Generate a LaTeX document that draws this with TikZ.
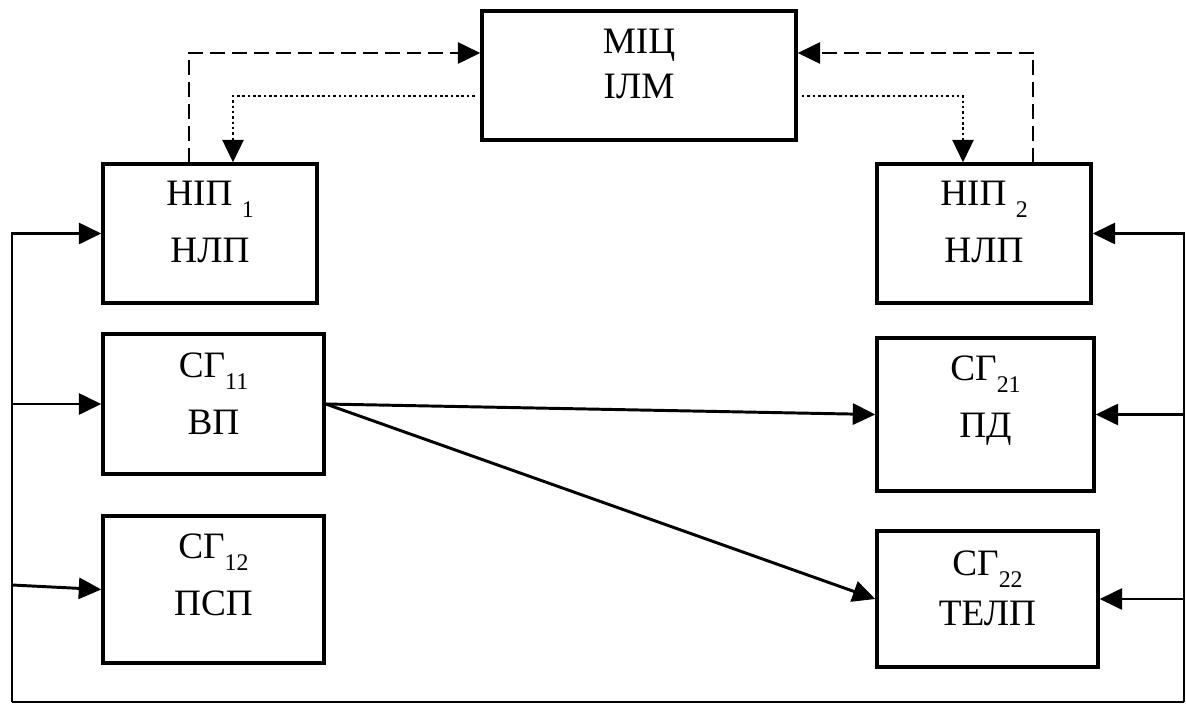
\documentclass[tikz,border=0pt]{standalone}
\usepackage{fontspec}
\setmainfont{Liberation Serif}
\usetikzlibrary{arrows.meta}

\newcommand\blkfont{\fontsize{26.5pt}{32pt}\selectfont}
\newcommand\lowidx[1]{\raisebox{-8.5pt}{\fontsize{17pt}{17pt}\selectfont #1}}

\begin{document}
\begin{tikzpicture}[x=0.025cm, y=-0.025cm,
  >={Triangle[length=16pt, width=15pt]},
  blk/.style={draw, line width=2.4pt, inner sep=0pt, align=center, font=\blkfont},
  conn/.style={line width=2.1pt},
  dsh/.style={line width=2.1pt, dash pattern=on 10.5pt off 5pt},
  dotline/.style={line width=1.8pt, dotted}]

\useasboundingbox (0,0) rectangle (1186,704);

% МІЦ ІЛМ
\node[blk, minimum width=7.85cm, text height=2.175cm, text depth=1.05cm] (mic) at (639,75.5) {МІЦ\\ІЛМ};

% НІП 1 and НІП 2
\node[blk, minimum width=5.35cm, text height=2.45cm, text depth=1.025cm] (hip1) at (210,233.5) {НІП \lowidx{1}\\[8pt]НЛП};
\node[blk, minimum width=5.35cm, text height=2.45cm, text depth=1.025cm] (hip2) at (984,233.5) {НІП \lowidx{2}\\[8pt]НЛП};

% СГ 11, СГ 12
\node[blk, minimum width=5.525cm, text height=2.5cm, text depth=1.0cm] (sg11) at (213.5,404) {СГ\lowidx{11}\\[8pt]ВП};
\node[blk, minimum width=5.525cm, text height=2.475cm, text depth=1.2cm] (sg12) at (213.5,589.5) {СГ\lowidx{12}\\[8pt]ПСП};

% СГ 21, СГ 22
\node[blk, minimum width=5.425cm, text height=2.475cm, text depth=1.35cm] (sg21) at (985.5,414.5) {СГ\lowidx{21}\\[8pt]ПД};
\node[blk, minimum width=5.525cm, text height=2.35cm, text depth=1.05cm] (sg22) at (987.5,599) {СГ\lowidx{22}\\[3.5pt]ТЕЛП};

% outer loop
\coordinate (sw) at (12,702);
\coordinate (se) at (1184,702);
\coordinate (l12) at (12,585);
\draw[conn, ->] (sw) |- (hip1.west);
\draw[conn] (sw) -- (se);
\draw[conn, ->] (se) |- (hip2.east);
\draw[conn, ->] (sw |- sg11.west) -- (sg11.west);
\draw[conn, ->] (l12) -- (sg12.west);
\draw[conn, ->] (se |- sg21.east) -- (sg21.east);
\draw[conn, ->] (se |- sg22.east) -- (sg22.east);

% СГ 11 out
\draw[conn, ->] (sg11.east) -- (sg21.west);
\draw[conn, ->] (sg11.east) -- (sg22.west);

% dashed: НІП to МІЦ
\coordinate (d1) at (189,53);
\coordinate (d2) at (1033,53);
\draw[dsh, ->] (hip1.north -| d1) |- (mic.west |- d1);
\draw[dsh, ->] (hip2.north -| d2) |- (mic.east |- d2);

% dotted: МІЦ to НІП
\coordinate (p1) at (233,96);
\coordinate (p2) at (963,96);
\draw[dotline, ->] ([xshift=-4pt]mic.west |- p1) -| (hip1.north -| p1);
\draw[dotline, ->] ([xshift=3pt]mic.east |- p2) -| (hip2.north -| p2);

\end{tikzpicture}
\end{document}
